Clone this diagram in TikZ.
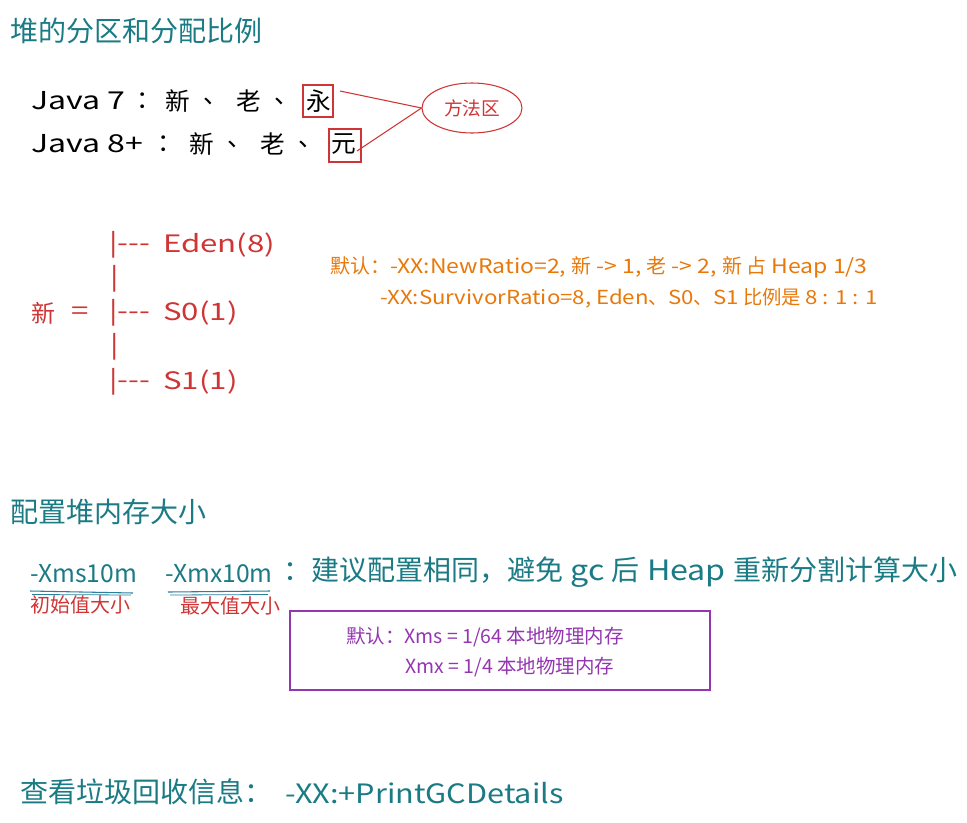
\documentclass[tikz,border=0pt]{standalone}
\usepackage{fontspec}
\setmainfont[Ligatures=TeXOff]{Noto Sans CJK SC}
\newfontfamily\latA[FakeStretch=1.3,Ligatures=TeXOff]{Noto Sans CJK SC}
\newfontfamily\latB[FakeStretch=1.15,Ligatures=TeXOff]{Noto Sans CJK SC}
\usetikzlibrary{shapes.geometric}
\definecolor{teal1}{HTML}{1B7B85}
\definecolor{red1}{HTML}{D03535}
\definecolor{orange1}{HTML}{E8780A}
\definecolor{purple1}{HTML}{9436B0}
\definecolor{uline}{HTML}{2A7F9A}
\newcommand{\fs}[1]{\fontsize{#1}{#1}\selectfont}
\newcommand{\LA}[1]{{\latA #1}}
\newcommand{\LB}[1]{{\latB #1}}
\tikzset{
  txt/.style={anchor=west,inner sep=0pt},
  title/.style={txt,text=teal1,font=\fs{21}},
  java/.style={txt,text=black,font=\fs{18.5}},
  tree/.style={txt,text=red1,font=\fs{18}},
  note/.style={txt,text=orange1,font=\fs{15}},
  lbl/.style={txt,text=red1,font=\fs{15}},
  pnote/.style={txt,text=purple1,font=\fs{14.6}},
  redbox/.style={draw=red1,line width=0.8pt},
  redline/.style={draw=red1,line width=0.8pt},
}
\begin{document}
\begin{tikzpicture}[x=0.75pt,y=-0.75pt]
\useasboundingbox[fill=white] (0,0) rectangle (967,822);
% title
\node[title] (t1) at (10,31) {堆的分区和分配比例};
% Java lines
\node[java] (j7) at (31,101) {\LA{Java 7}};
\node[java] (j7c) at (136,101) {：};
\node[java] (j7a) at (165,101) {新};
\node[java] (j7b) at (203,101) {、};
\node[java] (j7d) at (236,101) {老};
\node[java] (j7e) at (274,101) {、};
\node[java] (yong) at (306,101) {永};
\draw[redbox] (303,85) rectangle (333,117);
\node[java] (j8) at (31,144) {\LA{Java 8+}};
\node[java] (j8c) at (157,144) {：};
\node[java] (j8a) at (189,144) {新};
\node[java] (j8b) at (227,144) {、};
\node[java] (j8d) at (260,144) {老};
\node[java] (j8e) at (298,144) {、};
\node[java] (yuan) at (331,144) {元};
\draw[redbox] (329,129) rectangle (361,162);
\node[ellipse,draw=red1,line width=0.8pt,minimum width=100*0.75pt,minimum height=50*0.75pt,inner sep=0pt,text=red1,font=\fs{14}] (ffq) at (472,108) {方法区};
\coordinate (l1) at (340,91);
\coordinate (l2) at (357,151);
\draw[redline] (l1) -- (ffq.west);
\draw[redline] (l2) -- (ffq.west);
% tree
\node[tree] (b1) at (109,245) {\LA{|---}};
\node[tree] (eden) at (163,245) {\LA{Eden(8)}};
\node[tree] (v1) at (110,279) {\LA{|}};
\node[tree] (xin) at (31,313) {新};
\node[tree] (eq) at (71,313) {\LA{=}};
\node[tree] (b2) at (109,313) {\LA{|---}};
\node[tree] (s0) at (163,313) {\LA{S0(1)}};
\node[tree] (v2) at (110,347) {\LA{|}};
\node[tree] (b3) at (109,382) {\LA{|---}};
\node[tree] (s1) at (163,382) {\LA{S1(1)}};
% orange notes
\node[note] (n1) at (330,267) {默认：\LB{-XX:NewRatio=2, }新\LB{ -> 1, }老\LB{ -> 2, }新 占\LB{ Heap 1/3}};
\node[note,font=\fs{14.5}] (n2) at (380,298) {\LB{-XX:SurvivorRatio=8, Eden}、\LB{S0}、\LB{S1} 比例是 \LB{8 : 1 : 1}};
% second title
\node[title] (t2) at (10,512) {配置堆内存大小};
\node[title] (xms) at (30,574) {\fs{18.5}-Xms10m};
\node[title] (xmx) at (165,574) {\fs{18.5}-Xmx10m};
\node[title] (rest) at (283,572) {：建议配置相同，避免\LB{ gc }后\LB{ Heap }重新分割计算大小};
\draw[uline,line width=0.8pt] (30,591) -- (133,593);
\draw[uline,line width=0.6pt] (32,594.5) -- (131,595);
\draw[uline,line width=0.8pt] (168,592) -- (270,591);
\draw[uline,line width=0.6pt] (170,595) -- (268,594.5);
\node[lbl] (l_xms) at (30,605) {初始值大小};
\node[lbl] (l_xmx) at (180,606) {最大值大小};
% purple box
\draw[purple1,line width=1.1pt] (290,611) rectangle (710,690);
\node[pnote] (p1) at (346,637) {默认：Xms = 1/64 本地物理内存};
\node[pnote] (p2) at (405,667) {Xmx = 1/4 本地物理内存};
% bottom
\node[title] (b) at (20,792) {查看垃圾回收信息：};
\node[title] (gc) at (285,793) {\LB{\fs{20}-XX:+PrintGCDetails}};
\end{tikzpicture}
\end{document}
